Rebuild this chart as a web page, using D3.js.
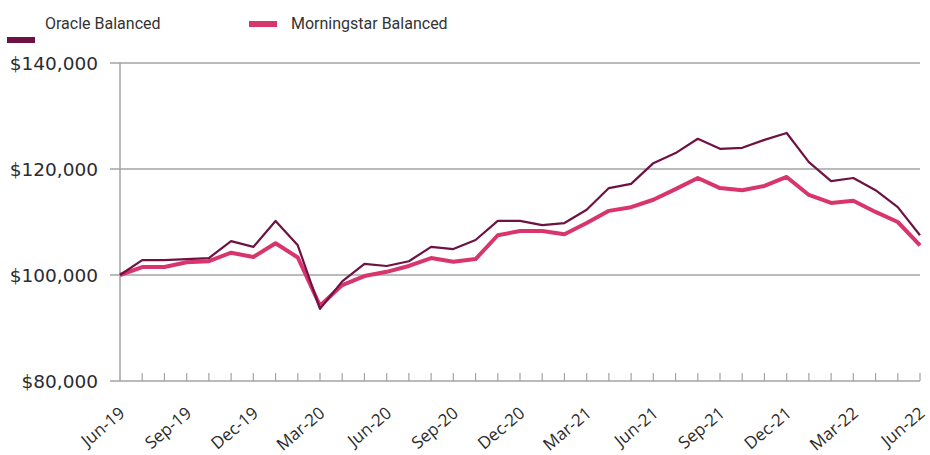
<!DOCTYPE html>
<html>
<head>
<meta charset="utf-8">
<script src="https://cdn.jsdelivr.net/npm/d3@7"></script>
<style>
  body { margin: 0; background: #ffffff; }
  svg { display: block; }
</style>
</head>
<body>
<div id="chart"></div>
<script>
// monthly growth of $100,000, Jun-19 .. Jun-22
var months = d3.range(37);
var tickLabels = ["Jun-19","Sep-19","Dec-19","Mar-20","Jun-20","Sep-20","Dec-20",
                  "Mar-21","Jun-21","Sep-21","Dec-21","Mar-22","Jun-22"];
var oracle = [100.0,102.8,102.8,103.0,103.2,106.4,105.3,110.2,105.6,93.6,98.8,102.1,101.7,
              102.6,105.3,104.9,106.6,110.2,110.2,109.4,109.8,112.3,116.4,117.2,121.1,123.0,
              125.7,123.8,124.0,125.5,126.8,121.3,117.7,118.3,116.0,112.8,107.5];
var morningstar = [100.0,101.5,101.5,102.4,102.6,104.2,103.4,106.0,103.3,94.2,98.1,99.8,100.6,
              101.7,103.2,102.5,103.0,107.5,108.3,108.3,107.7,109.8,112.1,112.8,114.2,116.2,
              118.3,116.4,116.0,116.8,118.5,115.1,113.6,114.0,111.9,110.0,105.6];
var yTicks = [80000, 100000, 120000, 140000];

var series = [
  {label:"Morningstar Balanced", values: morningstar, colour:"#d8356d", width:4},
  {label:"Oracle Balanced", values: oracle, colour:"#6e1244", width:2.2}
];

var W = 930, H = 455;
// plot box
var pLeft = 120, pRight = 920, pTop = 63, pBottom = 381;

var svg = d3.select("#chart").append("svg")
  .attr("width", W)
  .attr("height", H);

var x = d3.scaleLinear().domain([0, 36]).range([pLeft, pRight]);
var y = d3.scaleLinear().domain([80000, 140000]).range([pBottom, pTop]);

// gridlines
svg.append("g")
  .selectAll("line")
  .data(yTicks)
  .enter()
  .append("line")
  .attr("x1", pLeft - 10)
  .attr("x2", pRight)
  .attr("y1", function(d) { return y(d); })
  .attr("y2", function(d) { return y(d); })
  .style("stroke", "#a3a3a3")
  .style("stroke-width", 1.5);

// y axis line
svg.append("line")
  .attr("x1", pLeft).attr("x2", pLeft)
  .attr("y1", pTop).attr("y2", pBottom)
  .style("stroke", "#a3a3a3")
  .style("stroke-width", 1.5);

// y labels
svg.append("g")
  .selectAll("text")
  .data(yTicks)
  .enter()
  .append("text")
  .attr("x", 98)
  .attr("y", function(d) { return y(d) + 7; })
  .attr("text-anchor", "end")
  .style("font-family", "DejaVu Sans")
  .style("font-size", "18.5px")
  .style("fill", "#2b2b33")
  .text(function(d) { return "$" + d3.format(",")(d); });

// x ticks, every month, pointing up
svg.append("g")
  .selectAll("line")
  .data(months.slice(1))
  .enter()
  .append("line")
  .attr("x1", function(d) { return x(d); })
  .attr("x2", function(d) { return x(d); })
  .attr("y1", pBottom)
  .attr("y2", pBottom - 8)
  .style("stroke", "#a3a3a3")
  .style("stroke-width", 1.2);

// x labels, every quarter
svg.append("g")
  .selectAll("text")
  .data(tickLabels)
  .enter()
  .append("text")
  .attr("transform", function(d, i) {
    return "translate(" + (x(i * 3) + 6) + "," + (pBottom + 34) + ") rotate(-40)";
  })
  .attr("text-anchor", "end")
  .style("font-family", "Open Sans")
  .style("font-size", "17px")
  .style("fill", "#2b2b2b")
  .text(function(d) { return d; });

// lines
var line = d3.line()
  .x(function(d, i) { return x(i); })
  .y(function(d) { return y(d * 1000); });

svg.append("g")
  .selectAll("path")
  .data(series)
  .enter()
  .append("path")
  .attr("d", function(d) { return line(d.values); })
  .style("fill", "none")
  .style("stroke", function(d) { return d.colour; })
  .style("stroke-width", function(d) { return d.width; })
  .style("stroke-linejoin", "round");

// legend
var legend = [
  {label:"Oracle Balanced", colour:"#6e1244", sx:7, sy:37, tx:45},
  {label:"Morningstar Balanced", colour:"#d8356d", sx:249, sy:21, tx:291}
];
var lg = svg.append("g")
  .selectAll("g")
  .data(legend)
  .enter()
  .append("g");
lg.append("rect")
  .attr("x", function(d) { return d.sx; })
  .attr("y", function(d) { return d.sy; })
  .attr("width", 28)
  .attr("height", 6)
  .style("fill", function(d) { return d.colour; });
lg.append("text")
  .attr("x", function(d) { return d.tx; })
  .attr("y", 29)
  .style("font-family", "Roboto")
  .style("font-size", "16px")
  .style("fill", "#333333")
  .text(function(d) { return d.label; });
</script>
</body>
</html>
